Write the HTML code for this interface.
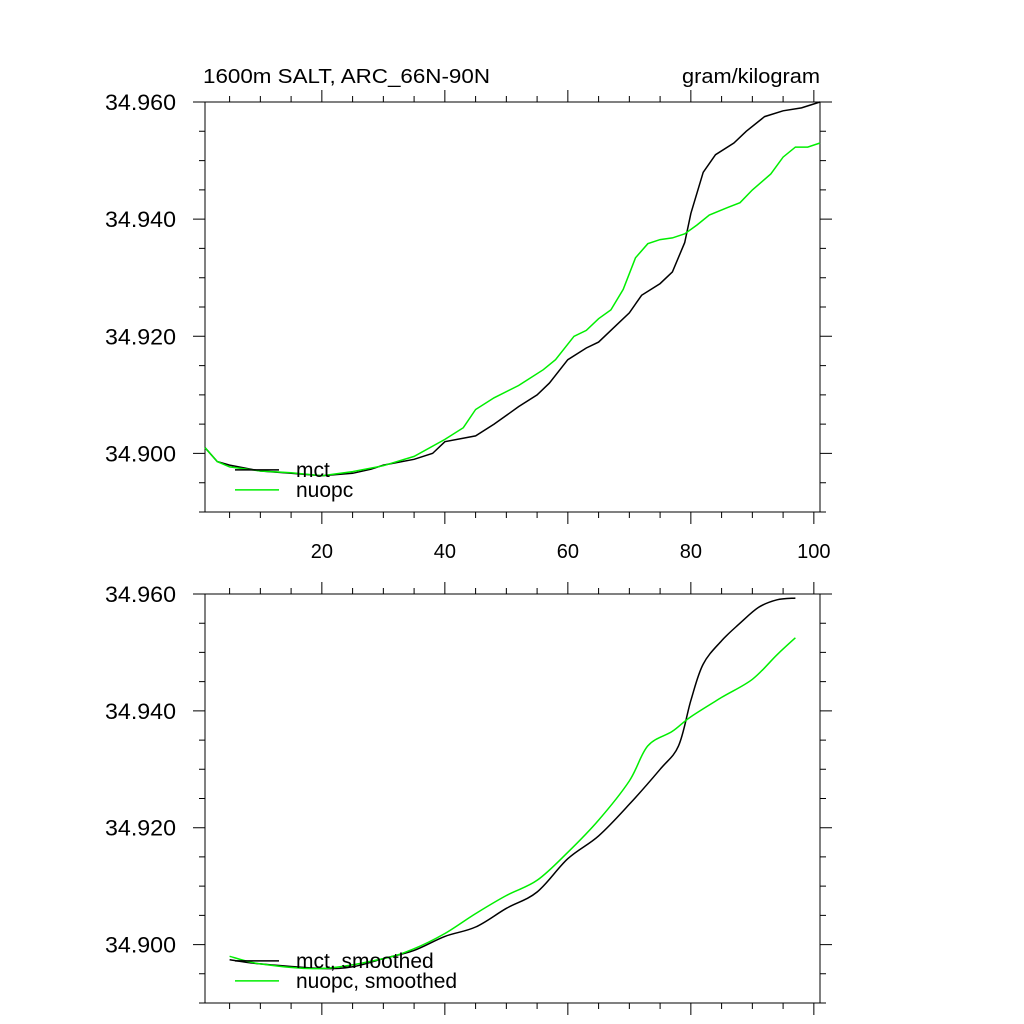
<!DOCTYPE html>
<html><head><meta charset="utf-8">
<style>
body{margin:0;background:#fff;}
svg{display:block;font-family:"Liberation Sans",sans-serif;}
</style></head>
<body>
<svg id="chart" width="1024" height="1024" viewBox="0 0 1024 1024">
<text x="203" y="83" font-size="20" textLength="287" lengthAdjust="spacingAndGlyphs">1600m SALT, ARC_66N-90N</text>
<text x="682" y="83" font-size="20" textLength="138" lengthAdjust="spacingAndGlyphs">gram/kilogram</text>
</svg>
<script>
const xTicks = [20, 40, 60, 80, 100];
const yTicks = [34.90, 34.92, 34.94, 34.96];
const topMctX = [1,3,5,10,15,20,25,28,30,35,38,40,45,48,50,52,55,57,60,63,65,68,70,72,75,77,79,80,82,84,87,89,92,95,98,101];
const topMctY = [34.901,34.8986,34.898,34.897,34.8966,34.8962,34.8966,34.8973,34.898,34.899,34.900,34.902,34.903,34.905,34.9065,34.908,34.910,34.912,34.916,34.918,34.919,34.922,34.924,34.927,34.929,34.931,34.936,34.941,34.948,34.951,34.953,34.955,34.9575,34.9585,34.959,34.960];
const topNuopcX = [1,3,5,10,15,20,25,30,35,40,43,45,48,52,56,58,61,63,65,67,69,71,73,75,77,79,81,83,86,88,90,93,95,97,99,101];
const topNuopcY = [34.901,34.8986,34.8977,34.897,34.8967,34.8962,34.8969,34.8979,34.8995,34.9024,34.9044,34.9075,34.9095,34.9116,34.9143,34.916,34.920,34.921,34.923,34.9245,34.928,34.9334,34.9358,34.9365,34.9368,34.9375,34.939,34.9407,34.942,34.9428,34.945,34.9477,34.9506,34.9523,34.9523,34.953];
const botMctX = [5,10,20,25,30,35,40,45,50,55,60,65,70,75,78,80,82,85,88,91,94,97];
const botMctY = [34.8974,34.8967,34.8959,34.8962,34.8976,34.899,34.9014,34.903,34.9062,34.909,34.9147,34.9186,34.924,34.930,34.934,34.9418,34.948,34.952,34.955,34.9577,34.959,34.9593];
const botNuopcX = [5,10,20,30,35,40,45,50,55,60,65,70,73,77,80,85,90,94,97];
const botNuopcY = [34.898,34.8967,34.8959,34.8976,34.8993,34.9019,34.9053,34.9084,34.911,34.9158,34.9213,34.928,34.934,34.9365,34.939,34.9423,34.9454,34.9496,34.9525];

const NS = "http://www.w3.org/2000/svg";
const svg = document.getElementById('chart');
function mk(tag, attrs, parent){const e=document.createElementNS(NS,tag);for(const k in attrs)e.setAttribute(k,attrs[k]);(parent||svg).appendChild(e);return e;}
const L=205,R=820,xmin=1,xmax=101,ymin=34.89,ymax=34.96;
function xs(v){return L+(v-xmin)/(xmax-xmin)*(R-L);}
function smoothPath(pts){
  let d='M'+pts[0][0].toFixed(1)+','+pts[0][1].toFixed(1);
  for(let i=0;i<pts.length-1;i++){
    const p0=pts[Math.max(0,i-1)],p1=pts[i],p2=pts[i+1],p3=pts[Math.min(pts.length-1,i+2)];
    const c1=[p1[0]+(p2[0]-p0[0])/6,p1[1]+(p2[1]-p0[1])/6];
    const c2=[p2[0]-(p3[0]-p1[0])/6,p2[1]-(p3[1]-p1[1])/6];
    d+=`C${c1[0].toFixed(1)},${c1[1].toFixed(1)} ${c2[0].toFixed(1)},${c2[1].toFixed(1)} ${p2[0].toFixed(1)},${p2[1].toFixed(1)}`;
  }
  return d;
}
function panel(top,bottom,showXLabels,s1x,s1y,s2x,s2y,n1,n2,pname,smooth){
  const g=mk('g',{});
  
  
  const ys=v=>bottom-(v-ymin)/(ymax-ymin)*(bottom-top);
  const frame=mk('rect',{x:L,y:top,width:R-L,height:bottom-top,fill:'none',stroke:'#000','stroke-width':1},g);
  
  
  let d='';
  for(let v=5;v<=100;v+=5){const x=xs(v);const len=(v%20===0)?12:6;
    d+=`M${x},${bottom}v${len}M${x},${top}v${-len}`;}
  for(let i=0;i<=14;i++){const v=ymin+i*0.005;const y=ys(v);const major=(i%4===2);const len=major?12:6;
    d+=`M${L},${y}h${-len}M${R},${y}h${len}`;}
  const t=mk('path',{d:d,stroke:'#000','stroke-width':1,fill:'none'},g);
  
  
  yTicks.forEach(v=>{const e=mk('text',{x:176,y:ys(v)+8,'font-size':22,'text-anchor':'end',textLength:71,lengthAdjust:'spacingAndGlyphs'},g);e.textContent=v.toFixed(3);
    
    });
  if(showXLabels) xTicks.forEach(v=>{const e=mk('text',{x:xs(v),y:bottom+46,'font-size':20,'text-anchor':'middle'},g);e.textContent=v;
    
    });
  const series=[[s1x,s1y,'#000',n1],[s2x,s2y,'#00ee00',n2]];
  series.forEach(([xa,ya,c,n])=>{
    const pts=xa.map((x,i)=>[xs(x),ys(ya[i])]);
    const p=mk('path',{d:smooth?smoothPath(pts):pts.map((q,i)=>(i?'L':'M')+q[0].toFixed(1)+','+q[1].toFixed(1)).join(''),stroke:c,'stroke-width':1.5,fill:'none'},g);
    
    
  });
  const ly=ys(34.8972);
  series.forEach(([xa,ya,c,n],i)=>{
    const ln=mk('line',{x1:235,x2:279,y1:ly+i*20,y2:ly+i*20,stroke:c,'stroke-width':1.5},g);
    
    
    const tx=mk('text',{x:296,y:ly+i*20+7,'font-size':21},g);tx.textContent=n;
    
    
  });
}
panel(102,512,true,topMctX,topMctY,topNuopcX,topNuopcY,'mct','nuopc','top-panel',false);
panel(594,1003,false,botMctX,botMctY,botNuopcX,botNuopcY,'mct, smoothed','nuopc, smoothed','bottom-panel',true);
</script>
</body></html>
